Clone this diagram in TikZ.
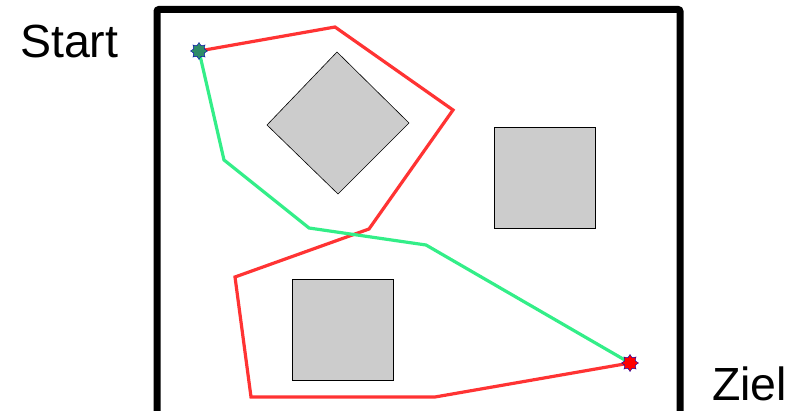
\documentclass[tikz,border=0pt]{standalone}
\usepackage{fontspec}
\setmainfont{Liberation Sans}
\usetikzlibrary{shapes.geometric}
\definecolor{pathred}{HTML}{FF3333}
\definecolor{pathgreen}{HTML}{33EE88}
\definecolor{startgreen}{HTML}{2E8B67}
\definecolor{obstgray}{HTML}{CCCCCC}
\begin{document}
\begin{tikzpicture}[
      x=1pt,y=-1pt,
      obstacle/.style={draw=black,line width=0.6pt,fill=obstgray},
      marker/.style={star,star points=8,star point ratio=1.5,minimum size=17pt,inner sep=0pt,draw=blue!70!black,line width=0.4pt},
      route/.style={line width=3.2pt,line join=miter},
      label/.style={font=\fontsize{46.5}{50}\selectfont,inner sep=0pt}
    ]
    \useasboundingbox (0,0) rectangle (802,411);
    \begin{scope}
      \clip (0,0) rectangle (802,411);
      \draw[line width=7pt,rounded corners=2pt] (157,9.5) rectangle (680,420);
    \end{scope}
    % obstacles
    \draw[obstacle] (337,52) -- (409,123) -- (338,194) -- (267,125) -- cycle;
    \draw[obstacle] (494,127) rectangle (595,228);
    \draw[obstacle] (292,279) rectangle (393,380);
    % waypoints
    \coordinate (s) at (199,51);
    \coordinate (g) at (630,363);
    \coordinate (r1) at (335,27);
    \coordinate (r2) at (453,110);
    \coordinate (r3) at (369,229);
    \coordinate (r4) at (235,277);
    \coordinate (r5) at (251,397);
    \coordinate (r6) at (435,397);
    \coordinate (g1) at (224,160);
    \coordinate (g2) at (309,228);
    \coordinate (g3) at (426,245);
    \draw[route,pathred] (s) -- (r1) -- (r2) -- (r3) -- (r4) -- (r5) -- (r6) -- (g);
    \draw[route,pathgreen] (s) -- (g1) -- (g2) -- (g3) -- (g);
    \node[marker,fill=startgreen] (start) at (s) {};
    \node[marker,fill=red] (goal) at (g) {};
    \node[label,anchor=base west] (starttext) at (20,58) {Start};
    \node[label,anchor=base west] (zieltext) at (712,400) {Ziel};
  \end{tikzpicture}
\end{document}
